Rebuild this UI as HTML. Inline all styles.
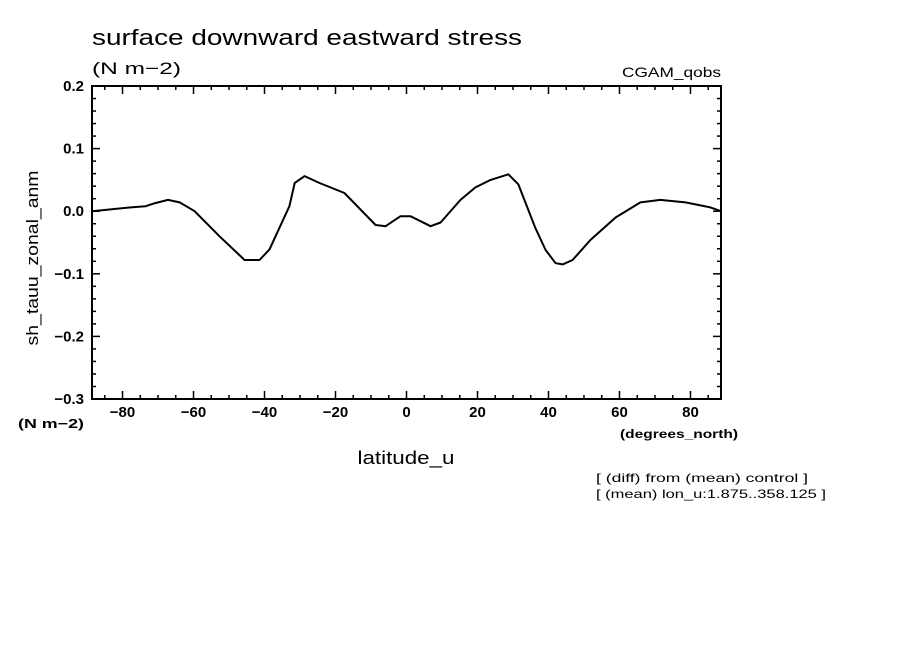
<!DOCTYPE html>
<html><head><meta charset="utf-8"><style>
body{margin:0;background:#fff;width:904px;height:654px;overflow:hidden}
svg{display:block;font-family:"Liberation Sans",sans-serif}
</style></head><body>
<svg id="chart" width="904" height="654" xmlns="http://www.w3.org/2000/svg">
<text x="92" y="45" font-size="22" textLength="430" lengthAdjust="spacingAndGlyphs">surface downward eastward stress</text>
<text x="92" y="74" font-size="17" textLength="89" lengthAdjust="spacingAndGlyphs">(N m−2)</text>
<text x="622" y="77" font-size="14" textLength="99" lengthAdjust="spacingAndGlyphs">CGAM_qobs</text>
<text transform="translate(38,258) rotate(-90)" font-size="17" text-anchor="middle" textLength="175" lengthAdjust="spacingAndGlyphs">sh_tauu_zonal_anm</text>
<text x="18" y="428" font-size="13" font-weight="bold" textLength="66" lengthAdjust="spacingAndGlyphs">(N m−2)</text>
<text x="406" y="464" font-size="18" text-anchor="middle" textLength="97" lengthAdjust="spacingAndGlyphs">latitude_u</text>
<text x="620" y="438" font-size="12" font-weight="bold" textLength="118" lengthAdjust="spacingAndGlyphs">(degrees_north)</text>
<text x="596" y="482" font-size="12" textLength="212" lengthAdjust="spacingAndGlyphs">[ (diff) from (mean) control ]</text>
<text x="596" y="498" font-size="12" textLength="230" lengthAdjust="spacingAndGlyphs">[ (mean) lon_u:1.875..358.125 ]</text>
<g id="axes"></g>
<rect x="92" y="86" width="629" height="313" fill="none" stroke="#000" stroke-width="2"/>
</svg>
<script>
const lats=[-88.6,-77.7,-73.5,-70.8,-67.2,-63.9,-59.7,-52.7,-45.6,-41.4,-38.6,-33,-31.5,-28.7,-24.5,-17.5,-8.7,-5.9,-1.7,1.1,6.8,9.6,15.2,19.4,23.7,28.7,31.5,36.3,39.2,42,44,46.8,51.8,58.9,65.9,71.5,78.6,85.6,88.6];
const vals=[0,0.006,0.008,0.013,0.018,0.014,0,-0.04,-0.078,-0.078,-0.061,0.008,0.045,0.056,0.045,0.029,-0.022,-0.024,-0.008,-0.008,-0.024,-0.018,0.018,0.038,0.05,0.059,0.043,-0.027,-0.062,-0.083,-0.085,-0.078,-0.046,-0.01,0.014,0.018,0.014,0.006,0];
const xTicks=[-80,-60,-40,-20,0,20,40,60,80];
const yTicks=[0.2,0.1,0.0,-0.1,-0.2,-0.3];
const yLabels=["0.2","0.1","0.0","−0.1","−0.2","−0.3"];
const xLabels=["−80","−60","−40","−20","0","20","40","60","80"];
const X0=92,X1=721,Y0=86,Y1=399,XMIN=-88.6,XMAX=88.6,YMIN=-0.3,YMAX=0.2;
const sx=v=>X0+(v-XMIN)/(XMAX-XMIN)*(X1-X0);
const sy=v=>Y1-(v-YMIN)/(YMAX-YMIN)*(Y1-Y0);
const NS="http://www.w3.org/2000/svg";
const g=document.getElementById('axes');
function mk(t,a){const e=document.createElementNS(NS,t);for(const k in a)e.setAttribute(k,a[k]);g.appendChild(e);return e;}
for(let v=-85;v<=85;v+=5){
 const major=v%20===0;const L=major?8:4;const x=sx(v);
 const t1=mk('line',{x1:x,x2:x,y1:Y1,y2:Y1-L,stroke:'#000','stroke-width':1.5});
 
 
 const t2=mk('line',{x1:x,x2:x,y1:Y0,y2:Y0+L,stroke:'#000','stroke-width':1.5});
 
 
}
for(let i=0;i<=25;i++){
 const v=-0.3+i*0.02;const major=i%5===0;const L=major?8:4;const y=sy(v);
 const t1=mk('line',{x1:X0,x2:X0+L,y1:y,y2:y,stroke:'#000','stroke-width':1.5});
 
 
 const t2=mk('line',{x1:X1,x2:X1-L,y1:y,y2:y,stroke:'#000','stroke-width':1.5});
 
 
}
xTicks.forEach((v,i)=>{
 const t=mk('text',{x:sx(v),y:417,'font-size':15,'font-weight':'bold','text-anchor':'middle'});
 t.textContent=xLabels[i];
 
 
});
yTicks.forEach((v,i)=>{
 const t=mk('text',{x:84,y:sy(v)+5,'font-size':15,'font-weight':'bold','text-anchor':'end'});
 t.textContent=yLabels[i];
 
 
});
const d=lats.map((la,i)=>(i?'L':'M')+sx(la).toFixed(1)+','+sy(vals[i]).toFixed(1)).join(' ');
const p=mk('path',{d:d,fill:'none',stroke:'#000','stroke-width':2,'stroke-linejoin':'round'});


</script>
</body></html>
